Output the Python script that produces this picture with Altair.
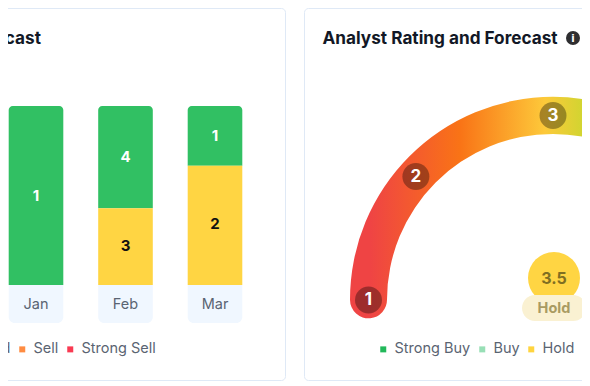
import math
import altair as alt
import pandas as pd

# ---- chart values ----
months = ["Jan", "Feb", "Feb", "Mar", "Mar"]
ratings = ["Strong Buy", "Strong Buy", "Hold", "Strong Buy", "Hold"]
counts = [1, 4, 3, 1, 2]
month_order = ["Jan", "Feb", "Mar"]
legend_names = ["Strong Buy", "Buy", "Hold", "Sell", "Strong Sell"]
legend_colors = ["#22b85a", "#98dfb6", "#ffd43f", "#ff8c42", "#f93a52"]
gauge_steps = [1, 2, 3, 4, 5]
gauge_angles = [-90, -48, 0, 48, 90]
gauge_value = ["3.5"]
gauge_label = ["Hold"]

W, H = 574, 374
FONT = "Inter"
INK = "#5a6472"

bars = pd.DataFrame({"month": months, "rating": ratings, "count": counts})
bars["rank"] = bars["rating"].map({n: i for i, n in enumerate(legend_names)})
month_df = pd.DataFrame({"month": month_order})
steps = pd.DataFrame({"step": gauge_steps, "angle": gauge_angles})
legend_df = pd.DataFrame({"name": legend_names})
one = pd.DataFrame({"v": gauge_value, "label": gauge_label})


def card(x0, x1):
    return alt.Chart(one).mark_rect(
        fill="white", stroke="#dfe9f6", strokeWidth=1, cornerRadius=4
    ).encode(x=alt.value(x0), x2=alt.value(x1), y=alt.value(0.5), y2=alt.value(372.5))


def txt(s, x, y, **kw):
    return alt.Chart(pd.DataFrame({"t": [s]})).mark_text(**kw).encode(
        x=alt.value(x), y=alt.value(y), text="t:N")


def legend_layer(key, x, y):
    return alt.Chart(legend_df.assign(**{key: legend_names})).mark_square(size=36).encode(
        x=alt.value(-200), y=alt.value(-200),
        color=alt.Color(f"{key}:N", scale=alt.Scale(domain=legend_names, range=legend_colors),
            legend=alt.Legend(title=None, orient="none", legendX=x, legendY=y, direction="horizontal",
                columns=5, symbolType="square", symbolSize=36, symbolOpacity=1, symbolStrokeWidth=0,
                labelFont=FONT, labelFontSize=14.5, labelColor=INK, labelOffset=4, columnPadding=4,
                padding=0, labelLimit=200)),
    )


# ---- left panel: stacked bars ----
xb = alt.X("month:N", axis=None, sort=month_order, scale=alt.Scale(
    domain=month_order, range=[-16.75, 251.75], paddingInner=0.39, paddingOuter=0.195))
yb = alt.Y("y0:Q", axis=None, scale=alt.Scale(domain=[0, 1], range=[277, 98], nice=False))

stacked = alt.Chart(bars).transform_stack(
    stack="count", groupby=["month"], offset="normalize",
    sort=[alt.SortField("rank", order="descending")], as_=["y0", "y1"]
).transform_calculate(mid="(datum.y0+datum.y1)/2")

green = stacked.transform_filter("datum.rating=='Strong Buy'").mark_bar(
    color="#31c063", cornerRadiusTopLeft=4, cornerRadiusTopRight=4
).encode(x=xb, y=yb, y2="y1:Q")
yellow = stacked.transform_filter("datum.rating=='Hold'").mark_bar(
    color="#ffd543", cornerRadius=0
).encode(x=xb, y=yb, y2="y1:Q")
ym = alt.Y("mid:Q", axis=None, scale=alt.Scale(domain=[0, 1], range=[277, 98], nice=False))
num_white = stacked.transform_filter("datum.rating=='Strong Buy'").mark_text(
    color="white", font=FONT, fontSize=15, fontWeight=700
).encode(x=xb, y=ym, text="count:Q")
num_black = stacked.transform_filter("datum.rating=='Hold'").mark_text(
    color="#111111", font=FONT, fontSize=15, fontWeight=700, dy=-1
).encode(x=xb, y=ym, text="count:Q")
chips = alt.Chart(month_df).mark_bar(
    color="#f0f7ff", cornerRadiusBottomLeft=6, cornerRadiusBottomRight=6
).encode(x=xb, y=alt.value(277), y2=alt.value(315))
chip_text = alt.Chart(month_df).mark_text(
    color=INK, font=FONT, fontSize=14.5
).encode(x=xb, y=alt.value(297), text="month:N")

left = alt.layer(green, yellow, chips, num_white, num_black, chip_text)

# ---- right panel: gauge ----
stops = [
    alt.GradientStop(color="#ef4444", offset=0.05),
    alt.GradientStop(color="#f97316", offset=0.27),
    alt.GradientStop(color="#fdc93a", offset=0.48),
    alt.GradientStop(color="#c5d82e", offset=0.60),
    alt.GradientStop(color="#22c55e", offset=0.95),
]
arc_df = pd.DataFrame({"lo": [min(gauge_angles) - 5.7], "hi": [max(gauge_angles) + 5.7]})
arc = alt.Chart(arc_df).mark_arc(
    color=alt.LinearGradient(gradient="linear", stops=stops, x1=0, x2=1, y1=0, y2=0),
    outerRadius=203, innerRadius=166, cornerRadius=18.5,
).encode(
    x=alt.value(545), y=alt.value(292),
    theta=alt.Theta("lo:Q", stack=None, scale=alt.Scale(domain=[-90, 90], range=[-math.pi / 2, math.pi / 2])),
    theta2="hi:Q",
)
polar = alt.Chart(steps).transform_calculate(
    px="184.5*sin(datum.angle*PI/180)", py="184.5*cos(datum.angle*PI/180)"
)
xg = alt.X("px:Q", axis=None, scale=alt.Scale(domain=[-545, 29], range=[0, W], nice=False, zero=False))
yg = alt.Y("py:Q", axis=None, scale=alt.Scale(domain=[-82, 292], range=[H, 0], nice=False, zero=False))
dots = polar.mark_circle(size=729, color="#000000", opacity=0.34).encode(x=xg, y=yg)
dot_text = polar.mark_text(color="white", font=FONT, fontSize=17, fontWeight=700).encode(x=xg, y=yg, text="step:Q")

bubble = alt.Chart(one).mark_circle(size=2704, color="#ffd543", opacity=1).encode(
    x=alt.value(546), y=alt.value(270))
bubble_text = alt.Chart(one).mark_text(color="#7f6f22", font=FONT, fontSize=16, fontWeight=700).encode(
    x=alt.value(546), y=alt.value(270.5), text="v:N")
pill = alt.Chart(one).mark_rect(fill="#faf1d2", cornerRadius=13).encode(
    x=alt.value(514), x2=alt.value(578), y=alt.value(287), y2=alt.value(313))
pill_text = alt.Chart(one).mark_text(color="#a99b62", font=FONT, fontSize=14.5, fontWeight=700).encode(
    x=alt.value(546), y=alt.value(300.5), text="label:N")

title_kw = dict(font=FONT, fontSize=17.2, fontWeight=700, color="#121826", baseline="middle")
info = alt.Chart(one).mark_circle(size=196, color="#2e2e30", opacity=1).encode(x=alt.value(565), y=alt.value(30))

chart = alt.layer(
    card(-40, 277.5),
    card(296.5, 640),
    txt("Forecast", 33, 31, align="right", **title_kw),
    txt("Analyst Rating and Forecast", 314.5, 31, align="left", **title_kw),
    info,
    txt("i", 565, 30.5, font="DejaVu Sans", fontSize=10, fontWeight=700, color="white"),
    left,
    alt.layer(arc, dots, dot_text, bubble, bubble_text, pill, pill_text),
    legend_layer("la", -196, 334),
    legend_layer("lb", 368, 334),
).resolve_scale(x="independent", y="independent", color="independent").properties(
    width=W, height=H, padding=0, autosize=alt.AutoSizeParams(type="none"), background="white"
).configure_view(stroke=None)

chart.save("out.html", embed_options={"renderer": "svg", "actions": False})
